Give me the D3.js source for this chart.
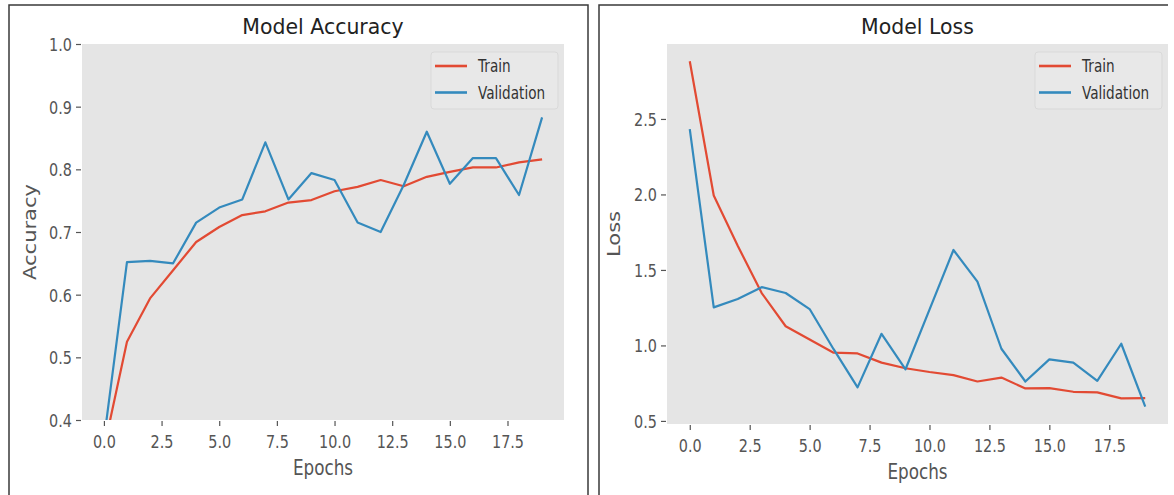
<!DOCTYPE html>
<html>
<head>
<meta charset="utf-8">
<script src="https://cdn.jsdelivr.net/npm/d3@7"></script>
<style>
  body { margin: 0; background: #fff; }
  svg { display: block; }
</style>
</head>
<body>
<svg id="chart" width="1174" height="495"></svg>
<script>
// values (epochs 0..19)
const epochs = d3.range(0, 20);
const trainAcc = [0.354, 0.525, 0.594, 0.639, 0.684, 0.708, 0.727, 0.733, 0.747, 0.751,
                  0.765, 0.772, 0.783, 0.773, 0.788, 0.796, 0.803, 0.803, 0.811, 0.816];
const valAcc = [0.368, 0.652, 0.654, 0.650, 0.715, 0.739, 0.752, 0.843, 0.752, 0.794,
                0.783, 0.715, 0.700, 0.775, 0.860, 0.777, 0.818, 0.818, 0.759, 0.883];
const trainLoss = [2.882, 1.993, 1.660, 1.347, 1.127, 1.039, 0.952, 0.947, 0.886, 0.849,
                   0.824, 0.803, 0.761, 0.787, 0.715, 0.717, 0.693, 0.689, 0.649, 0.651];
const valLoss = [2.432, 1.252, 1.307, 1.386, 1.347, 1.241, 0.975, 0.722, 1.077, 0.842,
                 1.237, 1.632, 1.423, 0.978, 0.761, 0.908, 0.886, 0.765, 1.011, 0.594];
const xTicks = [0, 2.5, 5, 7.5, 10, 12.5, 15, 17.5];
const accTicks = [0.4, 0.5, 0.6, 0.7, 0.8, 0.9, 1.0];
const lossTicks = [0.5, 1.0, 1.5, 2.0, 2.5];
const seriesNames = ['Train', 'Validation'];

const colors = { Train: '#E24A33', Validation: '#348ABD' };
const font = '"DejaVu Sans", sans-serif';
const sx = 0.8; // the source picture is squeezed horizontally

const svg = d3.select('#chart');

// padded extent like matplotlib's default 5% margins
function padded(values) {
    const [lo, hi] = d3.extent(values);
    const m = (hi - lo) * 0.05;
    return [lo - m, hi + m];
}

const panels = [
    {
        id: 'acc', title: 'Model Accuracy', yLabel: 'Accuracy',
        series: [trainAcc, valAcc], yDomain: [0.4, 1.0], yTicks: accTicks,
        plot: { left: 82, right: 564, top: 44, bottom: 420 },
        frame: `M9,500V5H588V500`, yLabelX: 30, tickBase: 448, xLabelY: 475
    },
    {
        id: 'loss', title: 'Model Loss', yLabel: 'Loss',
        series: [trainLoss, valLoss], yDomain: padded(trainLoss.concat(valLoss)), yTicks: lossTicks,
        plot: { left: 667, right: 1168, top: 44, bottom: 424 },
        frame: `M599,500V5H1168`, yLabelX: 614, tickBase: 452, xLabelY: 479
    }
];

panels.forEach(drawPanel);

function drawPanel(p) {
    const { left, right, top, bottom } = p.plot;

    svg.append('path')
        .attr('d', p.frame)
        .attr('fill', 'none')
        .attr('stroke', '#3a3a3a')
        .attr('stroke-width', 1.5);

    const x = d3.scaleLinear().domain([-0.95, 19.95]).range([left, right]);
    const y = d3.scaleLinear().domain(p.yDomain).range([bottom, top]);

    svg.append('rect')
        .attr('x', left).attr('y', top)
        .attr('width', right - left).attr('height', bottom - top)
        .attr('fill', '#E5E5E5');

    svg.append('clipPath').attr('id', 'clip-' + p.id)
        .append('rect')
        .attr('x', left).attr('y', top)
        .attr('width', right - left).attr('height', bottom - top);

    // axes
    const xAxis = svg.append('g')
        .attr('transform', `translate(0,${bottom + 1})`)
        .call(d3.axisBottom(x).tickValues(xTicks).tickFormat(d3.format('.1f')).tickSize(5).tickSizeOuter(0));
    const yAxis = svg.append('g')
        .attr('transform', `translate(${left - 1},0)`)
        .call(d3.axisLeft(y).tickValues(p.yTicks).tickFormat(d3.format('.1f')).tickSize(5).tickSizeOuter(0));

    [xAxis, yAxis].forEach(g => {
        g.select('.domain').remove();
        g.selectAll('line').attr('stroke', '#555').attr('stroke-width', 1.2);
        g.selectAll('text')
            .attr('fill', '#555')
            .attr('font-family', font)
            .attr('font-size', 18);
    });
    xAxis.selectAll('text')
        .attr('y', null).attr('dy', null)
        .attr('transform', `translate(0,${p.tickBase - bottom - 1}) scale(${sx},1)`);
    yAxis.selectAll('text')
        .attr('x', null).attr('dy', '0.36em')
        .attr('transform', `translate(-9,0) scale(${sx},1)`);

    // lines
    const line = d3.line()
        .x((d, i) => x(epochs[i]))
        .y(d => y(d));

    svg.append('g')
        .attr('clip-path', `url(#clip-${p.id})`)
        .selectAll('path')
        .data(p.series)
        .join('path')
        .attr('d', line)
        .attr('fill', 'none')
        .attr('stroke', (d, i) => colors[seriesNames[i]])
        .attr('stroke-width', 2.2)
        .attr('stroke-linejoin', 'round');

    // title and labels
    svg.append('text')
        .attr('transform', `translate(${(left + right) / 2},34) scale(0.93,1)`)
        .attr('text-anchor', 'middle')
        .attr('font-family', font)
        .attr('font-size', 22)
        .attr('fill', '#222')
        .text(p.title);

    svg.append('text')
        .attr('transform', `translate(${(left + right) / 2},${p.xLabelY}) scale(${sx},1)`)
        .attr('text-anchor', 'middle')
        .attr('font-family', font)
        .attr('font-size', 21)
        .attr('fill', '#555')
        .text('Epochs');

    svg.append('text')
        .attr('transform', `translate(${p.yLabelX},${(top + bottom) / 2}) scale(${sx},1) rotate(-90)`)
        .attr('text-anchor', 'middle')
        .attr('dy', '0.35em')
        .attr('font-family', font)
        .attr('font-size', 21)
        .attr('fill', '#555')
        .text(p.yLabel);

    // legend
    const lw = 127, lh = 57;
    const legend = svg.append('g')
        .attr('transform', `translate(${right - 6 - lw},52)`);
    legend.append('rect')
        .attr('width', lw).attr('height', lh)
        .attr('rx', 3)
        .attr('fill', '#E8E8E8')
        .attr('stroke', '#D9D9D9');
    const item = legend.selectAll('g.item')
        .data(seriesNames)
        .join('g')
        .attr('class', 'item')
        .attr('transform', (d, i) => `translate(0,${14 + i * 26.5})`);
    item.append('line')
        .attr('x1', 4).attr('x2', 36)
        .attr('stroke', d => colors[d])
        .attr('stroke-width', 2.6);
    item.append('text')
        .attr('transform', `translate(47,0) scale(${sx},1)`)
        .attr('dy', '0.38em')
        .attr('font-family', font)
        .attr('font-size', 17)
        .attr('fill', '#333')
        .text(d => d);
}
</script>
</body>
</html>
